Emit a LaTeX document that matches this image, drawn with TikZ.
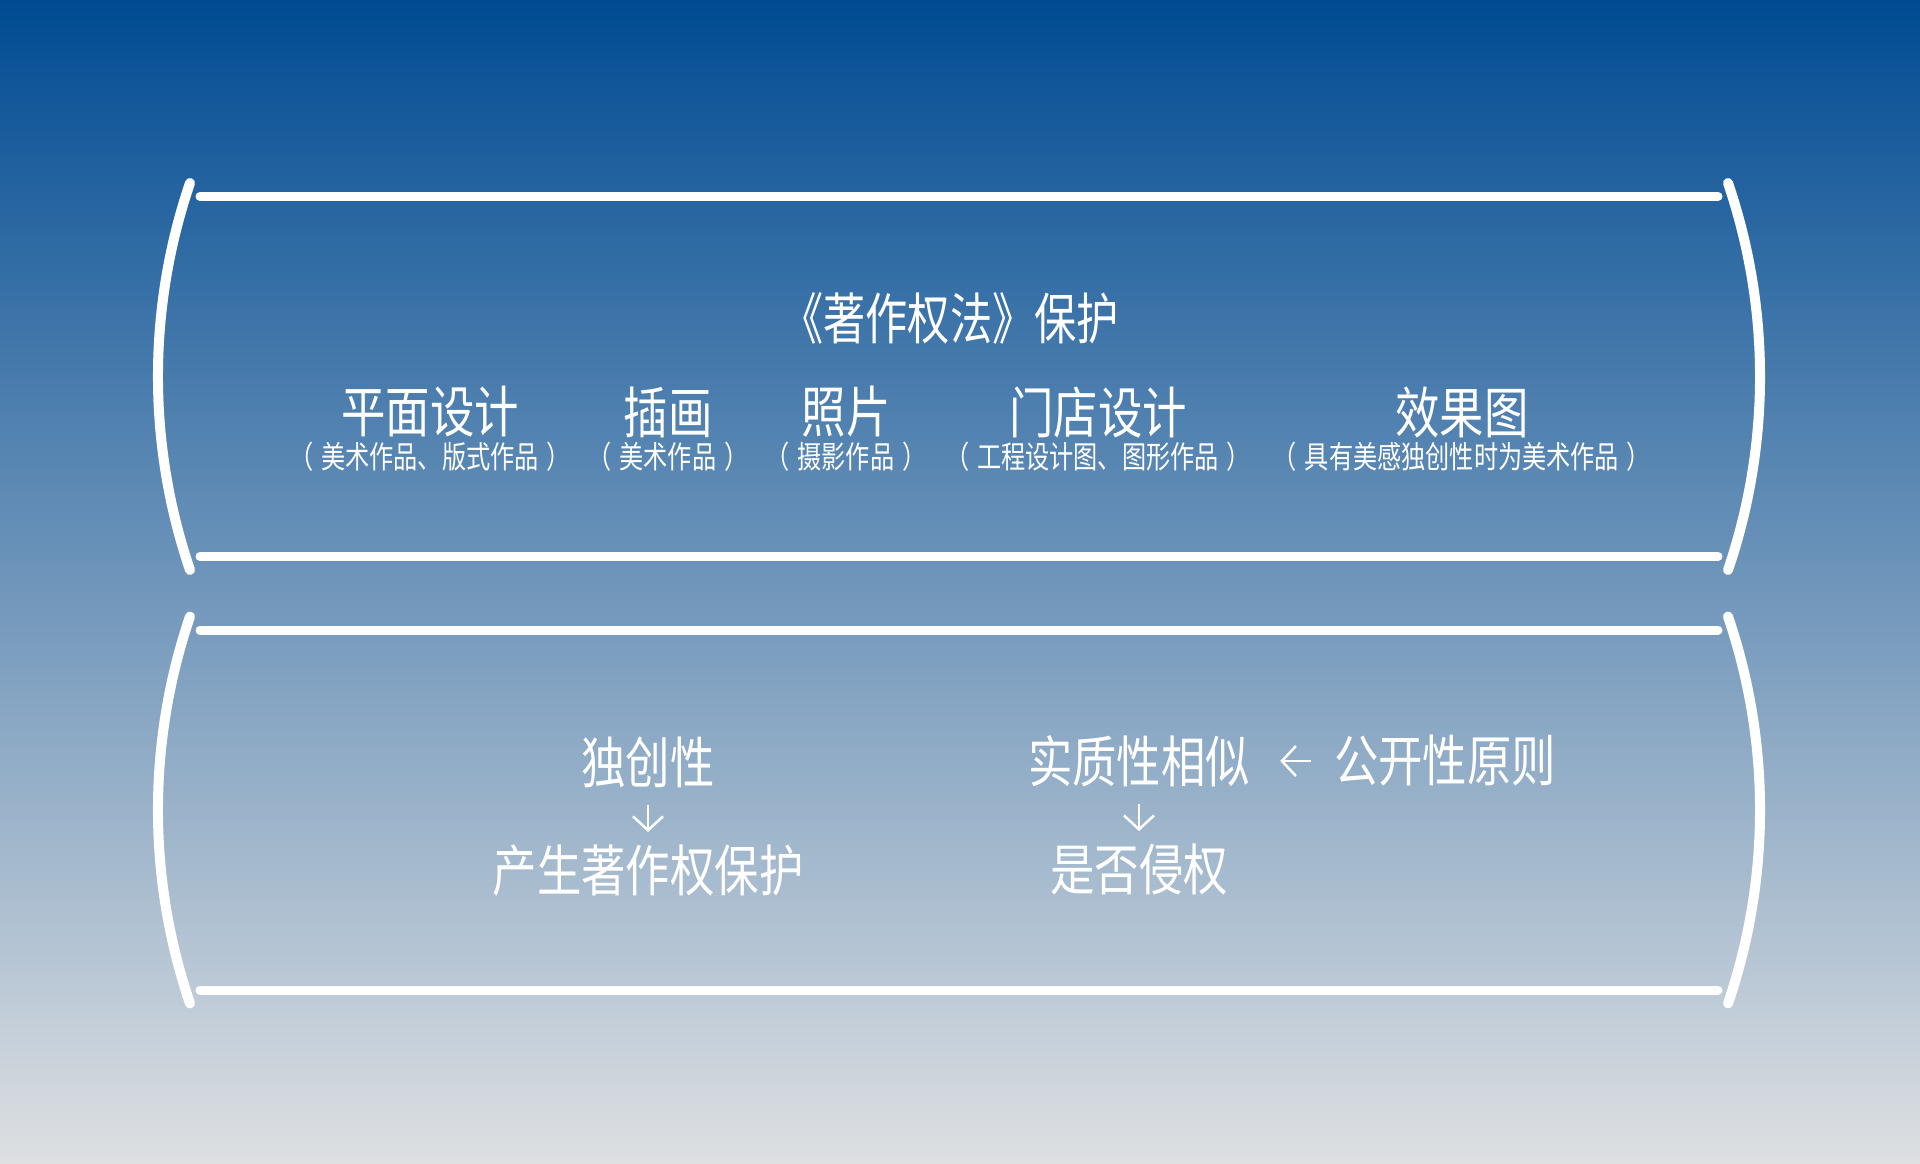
\documentclass[tikz,border=0pt]{standalone}
\usepackage{fontspec}
\usepackage{tikz}
\usetikzlibrary{positioning}
\usetikzlibrary{arrows.meta}
\newfontfamily\cjk[FakeStretch=0.8]{Noto Sans CJK SC}
\newfontfamily\cjknarrow[FakeStretch=0.76]{Noto Sans CJK SC}
\newfontfamily\cjknote[FakeStretch=0.78]{Noto Sans CJK SC}
\definecolor{skytop}{RGB}{0,75,147}
\definecolor{skybottom}{RGB}{222,224,226}
% one panel round the centre line #1: two rails and two curved rims
\newcommand*\railpanel[1]{%
    \draw[rim] (190,{#1-193.5}) .. controls (147.3,{#1-68}) and (147.3,{#1+68}) .. (190,{#1+193.5});% left rim
    \draw[rim] (1728,{#1-193.5}) .. controls (1770.7,{#1-68}) and (1770.7,{#1+68}) .. (1728,{#1+193.5});% right rim
    \draw[rail] (200,{#1-180}) -- (1718,{#1-180});% top rail
    \draw[rail] (200,{#1+180}) -- (1718,{#1+180})% bottom rail
}

\begin{document}
\begin{tikzpicture}
    [%
        x=1pt,y=-1pt,%
        rim/.style={%
            draw=white,%
            line width=10pt,%
            line cap=round%
        },%
        rail/.style={%
            draw=white,%
            line width=9pt,%
            line cap=round%
        },%
        work/.style={%
            text=white,%
            inner sep=0pt,%
            font=\cjk\fontsize{55.5}{60}\selectfont%
        },%
        work note/.style={%
            text=white,%
            inner sep=0pt,%
            font=\cjknote\fontsize{31}{34}\selectfont%
        },%
        flow/.style={%
            draw=white,%
            line width=2.5pt,%
            -{Straight Barb[length=14pt,width=30pt]}%
        }%
    ]%
%
    % background
    \shade[top color=skytop,bottom color=skybottom] (0,0) rectangle (1920,1164);
    \railpanel{376.5};
    \railpanel{810};
%
    % upper panel: the law and the kinds of works
    \node[work,font=\cjknarrow\fontsize{55.5}{60}\selectfont] (law) at (950,318) {《著作权法》保护};
    % \name node name
    % \x centre of the work
    % \work/\note kind of work and its class
    \foreach \name/\x/\work/\note in {%
        flat/430/平面设计/美术作品、版式作品,%
        drawing/668/插画/美术作品,%
        photo/846/照片/摄影作品,%
        shop/1098/门店设计/工程设计图、图形作品,%
        render/1462/效果图/具有美感独创性时为美术作品%
    }{
        \node[work] (\name) at (\x,412) {\work};
        \node[work note,below=4pt of \name] (\name-note) {（\hspace{.25em}\note\hspace{.25em}）};
    } % \foreach \name/\x/\work/\note
%
    % lower panel: originality and similarity
    \node[work] (originality) at (648,762) {独创性};
    \node[work] (protection) at (648,871) {产生著作权保护};
    \node[work] (similarity) at (1139,761) {实质性相似};
    \node[work] (infringe) at (1139,870) {是否侵权};
    \node[work] (publicity) at (1445,761) {公开性原则};
    \draw[flow,shorten <=17pt,shorten >=13pt] (originality.south) -- (protection.north);
    \draw[flow,shorten <=17pt,shorten >=13pt] (similarity.south) -- (infringe.north);
    \draw[flow,shorten <=23pt,shorten >=30pt] (publicity.west) -- (similarity.east);
\end{tikzpicture}
\end{document}
